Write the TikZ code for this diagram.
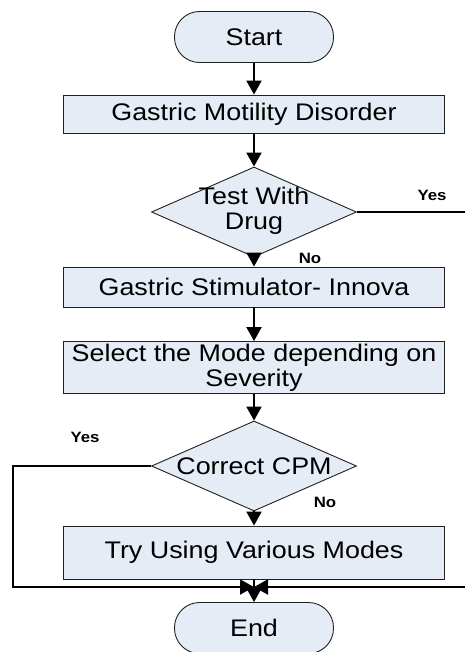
\documentclass[tikz,border=0pt]{standalone}
\usepackage{fontspec}
\setmainfont{Liberation Sans}[FakeStretch=1.12]
\usetikzlibrary{shapes.geometric,arrows.meta}
\definecolor{boxfill}{HTML}{E6ECF6}
\definecolor{boxline}{HTML}{202020}
\begin{document}
\begin{tikzpicture}[x=1pt,y=-1pt,
  box/.style={draw=boxline, line width=0.9pt, fill=boxfill, minimum width=381pt, inner sep=0pt,
    font=\fontsize{24}{25}\selectfont, align=center},
  term/.style={box, minimum width=159pt, minimum height=51pt, rounded corners=25pt},
  decision/.style={diamond, draw=boxline, fill=boxfill, line width=0.9pt, minimum width=205pt,
    minimum height=90pt, inner sep=0pt},
  dtext/.style={inner sep=0pt, font=\fontsize{24}{25}\selectfont, align=center},
  conn/.style={line width=2pt, draw=black},
  arr/.style={conn, -{Triangle[width=15pt,length=14pt]}},
  lab/.style={inner sep=0pt, font=\fontsize{15}{16}\selectfont\bfseries}]
\useasboundingbox (0,0) rectangle (465,652);
\node[term] (start) at (254,37) {Start};
\node[box, minimum height=38pt] (b1) at (254,114) {Gastric Motility Disorder};
\node[decision] (d1) at (254,212) {};
\node[dtext] (t1) at (254,211) {Test With\\Drug};
\node[box, minimum height=40pt] (b2) at (254,287) {Gastric Stimulator- Innova};
\node[box, minimum height=52pt] (b3) at (254,367.5) {Select the Mode depending on\\Severity};
\node[decision] (d2) at (254,466) {};
\node[dtext] (t2) at (254,466) {Correct CPM};
\node[box, minimum height=53pt] (b4) at (254,552.5) {Try Using Various Modes};
\node[term] (end) at (254,628) {End};
\coordinate (r1) at (465,212);
\coordinate (lc) at (13,587);
\coordinate (mid) at (254,587);
\coordinate (rc) at (465,587);
\draw[arr] (start) -- (b1);
\draw[arr] (b1) -- (d1);
\draw[arr] (d1) -- (b2);
\draw[arr] (b2) -- (b3);
\draw[arr] (b3) -- (d2);
\draw[arr] (d2) -- (b4);
\draw[arr] (b4) -- (end);
\draw[conn] (d1.east) -- (r1);
\draw[arr] (d2.west) -| (lc) -- (mid);
\draw[arr] (rc) -- (mid);
\node[lab] (y1) at (432,195) {Yes};
\node[lab] (n1) at (310,258) {No};
\node[lab] (y2) at (85,437) {Yes};
\node[lab] (n2) at (325,502) {No};
\end{tikzpicture}
\end{document}
